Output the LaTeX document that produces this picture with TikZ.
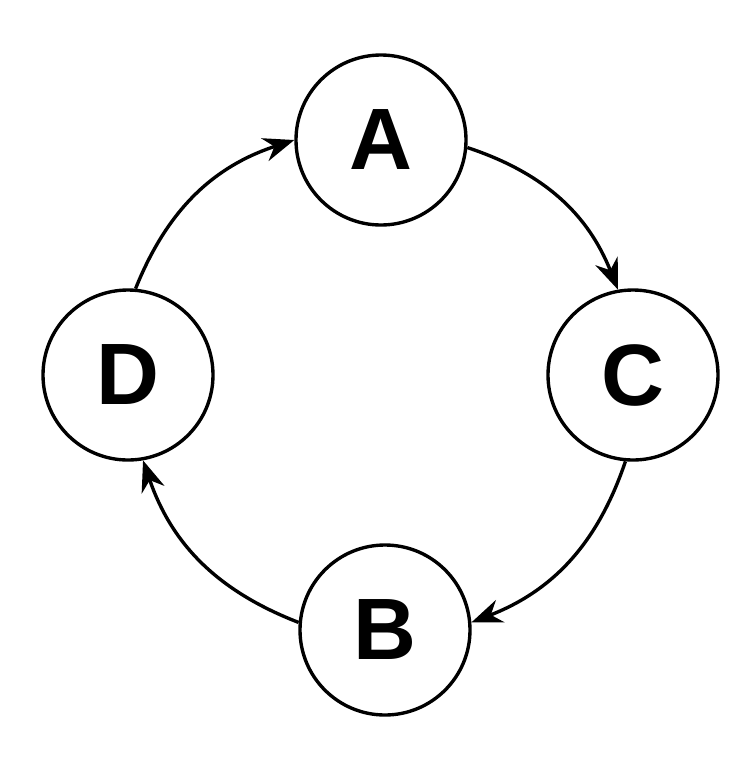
\documentclass[tikz,border=0pt]{standalone}
\usepackage{fontspec}
\setmainfont{Liberation Sans}
\usetikzlibrary{arrows.meta}
\begin{document}
\begin{tikzpicture}[>={Stealth[length=22pt,width=17pt]},line width=2.4pt,
                    vertex/.style={circle,draw,fill=white,minimum size=4.25cm,inner sep=0pt,
                                   font=\fontsize{62}{62}\selectfont\bfseries}]
  \useasboundingbox[fill=white] (0,0) rectangle (18.8,-19.1);

  \node[vertex] (A) at (9.525,-3.5)  {A};
  \node[vertex] (C) at (15.825,-9.375) {C};
  \node[vertex] (D) at (3.2,-9.375)  {D};
  \node[vertex] (B) at (9.625,-15.75) {B};

  \draw[->] (A.-5)   to[bend left=25] (C.100);
  \draw[->] (C.-95)  to[bend left=25] (B.5);
  \draw[->] (B.175)  to[bend left=25] (D.-80);
  \draw[->] (D.85)   to[bend left=25] (A.180);
\end{tikzpicture}
\end{document}
